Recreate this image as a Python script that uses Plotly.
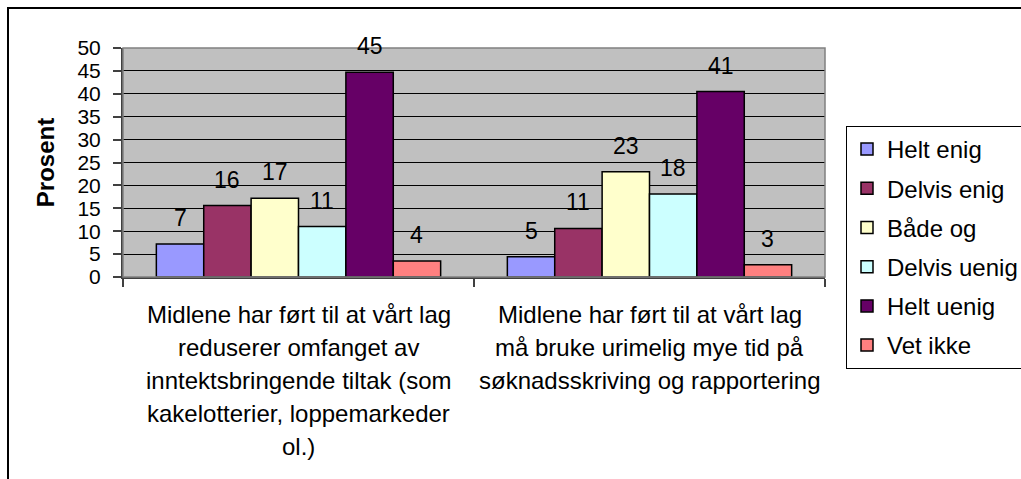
import plotly.graph_objects as go

# ---- data ----
cat_lines = [
    ["Midlene har ført til at vårt lag", "reduserer omfanget av",
     "inntektsbringende tiltak (som", "kakelotterier, loppemarkeder", "ol.)"],
    ["Midlene har ført til at vårt lag", "må bruke urimelig mye tid på",
     "søknadsskriving og rapportering"],
]
categories = [" ".join(l) for l in cat_lines]
series = ["Helt enig", "Delvis enig", "Både og", "Delvis uenig", "Helt uenig", "Vet ikke"]
values = [
    [7.2, 4.4],
    [15.6, 10.6],
    [17.2, 23.0],
    [11.0, 18.1],
    [44.7, 40.5],
    [3.5, 2.7],
]
labels = [
    ["7", "5"],
    ["16", "11"],
    ["17", "23"],
    ["11", "18"],
    ["45", "41"],
    ["4", "3"],
]
colors = ["#9999FF", "#993366", "#FFFFCC", "#CCFFFF", "#660066", "#FF8080"]
y_ticks = list(range(0, 55, 5))

# ---- layout geometry ----
W, H = 1021, 479
ML, MR, MT, MB = 123, 196, 48, 202
BARGAP = 0.19
FONT = "Liberation Sans, Arial, sans-serif"
FS = 23

plot_w = W - ML - MR
plot_h = H - MT - MB
cat_px = plot_w / len(categories)
bar_px = cat_px * (1 - BARGAP) / len(series)

fig = go.Figure()
for i, name in enumerate(series):
    fig.add_trace(go.Bar(
        x=categories, y=values[i], name=name,
        marker=dict(color=colors[i], line=dict(color="black", width=1.5)),
        legendgroup=name, hoverinfo="skip",
    ))

annotations = []
# data labels
for i in range(len(series)):
    for j, c in enumerate(categories):
        annotations.append(dict(
            x=c, y=values[i][j], xref="x", yref="y", text=labels[i][j],
            showarrow=False, xshift=(i - (len(series) - 1) / 2) * bar_px,
            yshift=26, yanchor="middle", font=dict(family=FONT, size=FS, color="black"),
        ))
# category labels (one annotation per line)
for j, lines in enumerate(cat_lines):
    for k, line in enumerate(lines):
        annotations.append(dict(
            x=categories[j], y=0, xref="x", yref="paper", text=line,
            showarrow=False, yanchor="middle", yshift=-(37 + 33 * k),
            font=dict(family=FONT, size=24, color="black"),
        ))

shapes = [
    # plot area border
    dict(type="rect", xref="paper", yref="paper", x0=0, y0=0, x1=1, y1=1,
         line=dict(color="#808080", width=1.5), layer="above"),
    # outer chart border
    dict(type="rect", xref="paper", yref="paper",
         x0=(8 - ML) / plot_w, x1=(W + 20 - ML) / plot_w,
         y0=-(H + 20 - MT - plot_h) / plot_h, y1=1 + (MT - 8) / plot_h,
         line=dict(color="black", width=2)),
]

fig.update_layout(
    width=W, height=H,
    margin=dict(l=ML, r=MR, t=MT, b=MB, pad=0, autoexpand=False),
    paper_bgcolor="white", plot_bgcolor="#C0C0C0",
    barmode="group", bargap=BARGAP, bargroupgap=0,
    font=dict(family=FONT, size=FS, color="black"),
    showlegend=True,
    legend=dict(
        x=(846 - ML) / plot_w, y=1 - (126 - MT) / plot_h, xanchor="left", yanchor="top",
        bordercolor="black", borderwidth=1, bgcolor="white",
        font=dict(family=FONT, size=24, color="black"),
        traceorder="grouped", tracegroupgap=5, itemwidth=30, maxheight=400,
    ),
    annotations=annotations, shapes=shapes,
)
fig.update_xaxes(
    type="category", showticklabels=False, ticks="outside", tickson="boundaries",
    ticklen=8, tickcolor="#404040", tickwidth=1.5,
    showline=True, linecolor="#404040", linewidth=2, showgrid=False,
)
fig.update_yaxes(
    range=[0, 50], tickvals=y_ticks, ticktext=[str(v) for v in y_ticks],
    ticks="outside", ticklen=8, tickcolor="#404040", tickwidth=1.5,
    showline=True, linecolor="#404040", linewidth=2,
    showgrid=True, gridcolor="black", gridwidth=1, zeroline=False,
    tickfont=dict(family=FONT, size=21, color="black"), ticklabelstandoff=8,
    title=dict(text="<b>Prosent</b>", standoff=16,
               font=dict(family=FONT, size=24, color="black")),
)

fig.write_html("out.html", config={"displayModeBar": False},
               post_script="document.body.style.margin='0px';")
